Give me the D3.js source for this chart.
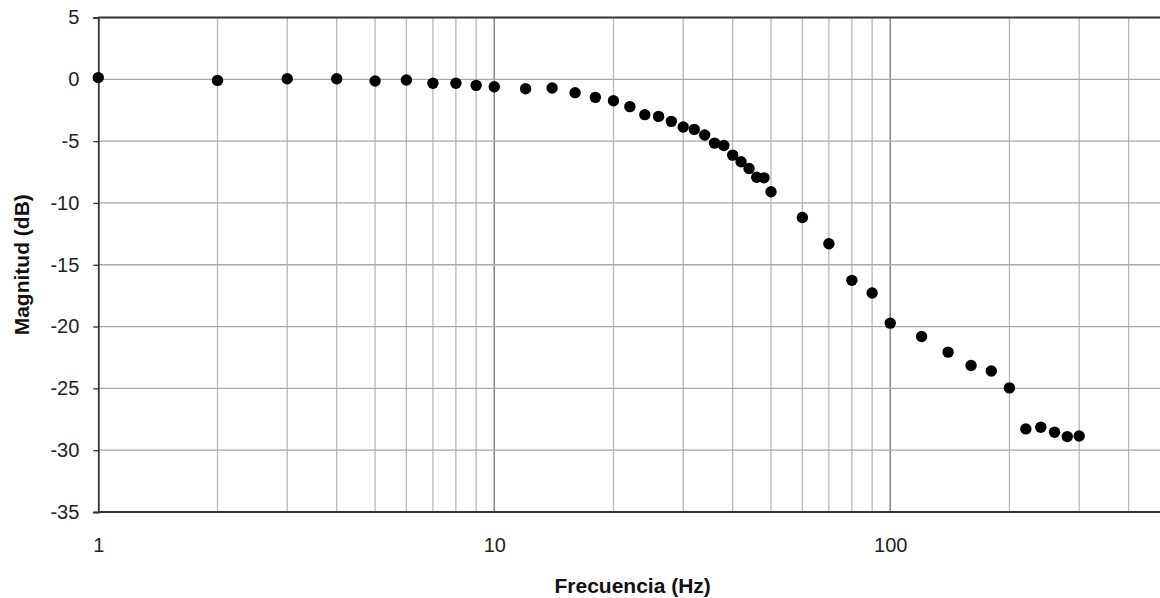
<!DOCTYPE html>
<html lang="es">
<head>
<meta charset="UTF-8">
<title>Magnitud vs Frecuencia</title>
<script src="https://d3js.org/d3.v7.min.js"></script>
<style>
  html, body { margin: 0; padding: 0; background: #fff; }
  svg { display: block; font-family: "Liberation Sans", Arial, sans-serif; }
</style>
</head>
<body>
<div id="chart"></div>
<script>
// measured points (Hz, dB)
const freq = [1, 2, 3, 4, 5, 6, 7, 8, 9, 10,
  12, 14, 16, 18, 20, 22, 24, 26, 28, 30,
  32, 34, 36, 38, 40, 42, 44, 46, 48, 50,
  60, 70, 80, 90, 100, 120, 140, 160, 180, 200,
  220, 240, 260, 280, 300];
const mag = [0.14, -0.1, 0.05, 0.05, -0.14, -0.06, -0.32, -0.32, -0.49, -0.6,
  -0.76, -0.7, -1.08, -1.46, -1.73, -2.21, -2.86, -3.0, -3.4, -3.86,
  -4.05, -4.51, -5.16, -5.35, -6.13, -6.67, -7.21, -7.92, -7.97, -9.1,
  -11.18, -13.3, -16.26, -17.29, -19.72, -20.8, -22.07, -23.15, -23.6, -24.96,
  -28.28, -28.15, -28.55, -28.9, -28.85];

const yTicks = [5, 0, -5, -10, -15, -20, -25, -30, -35];
const xLabels = [1, 10, 100];
const xGrid = [2, 3, 4, 5, 6, 7, 8, 9, 20, 30, 40, 50, 60, 70, 80, 90, 200, 300, 400];

const W = 1160, H = 598;
const margin = {top: 17.5, left: 98.3, bottom: 86};
const plotRight = 1167;

const x = d3.scaleLog().domain([1, 500]).range([margin.left, plotRight]);
const y = d3.scaleLinear().domain([-35, 5]).range([H - margin.bottom, margin.top]);

const svg = d3.select("#chart").append("svg")
  .attr("width", W)
  .attr("height", H);

svg.append("rect").attr("width", W).attr("height", H).attr("fill", "#fff");

// vertical grid
svg.append("g").selectAll("line")
  .data(xGrid)
  .enter().append("line")
  .attr("x1", d => x(d)).attr("x2", d => x(d))
  .attr("y1", y(5)).attr("y2", y(-35))
  .attr("stroke", "#b8b8b8")
  .attr("stroke-width", 1.3);

svg.append("g").selectAll("line")
  .data([10, 100])
  .enter().append("line")
  .attr("x1", d => x(d)).attr("x2", d => x(d))
  .attr("y1", y(5)).attr("y2", y(-35))
  .attr("stroke", "#868686")
  .attr("stroke-width", 1.5);

// horizontal grid
svg.append("g").selectAll("line")
  .data(yTicks.filter(d => d !== 5 && d !== -35))
  .enter().append("line")
  .attr("x1", x(1)).attr("x2", plotRight)
  .attr("y1", d => y(d)).attr("y2", d => y(d))
  .attr("stroke", "#a8a8a8")
  .attr("stroke-width", 1.3);

// frame: top, left, bottom
svg.append("line")
  .attr("x1", x(1)).attr("x2", plotRight)
  .attr("y1", y(5)).attr("y2", y(5))
  .attr("stroke", "#333").attr("stroke-width", 1.8);

const yAxis = d3.axisLeft(y)
  .tickValues(yTicks)
  .tickSize(5)
  .tickPadding(14)
  .tickFormat(d => String(d));

const gy = svg.append("g")
  .attr("transform", `translate(${x(1)},0)`)
  .call(yAxis);
gy.select(".domain").attr("stroke", "#333").attr("stroke-width", 1.8);
gy.selectAll(".tick line").attr("stroke", "#333").attr("stroke-width", 1.3);
gy.selectAll(".tick text")
  .attr("font-size", 20)
  .attr("fill", "#222")
  .attr("font-family", "'Liberation Sans', Arial, sans-serif");

const xAxis = d3.axisBottom(x)
  .tickValues(xLabels)
  .tickSize(0)
  .tickPadding(26)
  .tickFormat(d => String(d));

const gx = svg.append("g")
  .attr("transform", `translate(0,${y(-35)})`)
  .call(xAxis);
gx.select(".domain").attr("stroke", "#333").attr("stroke-width", 1.8)
  .attr("d", `M${x(1)},0H${plotRight}`);
gx.selectAll(".tick text")
  .attr("font-size", 20)
  .attr("fill", "#222")
  .attr("font-family", "'Liberation Sans', Arial, sans-serif");

// points
svg.append("g").selectAll("circle")
  .data(freq.map((f, i) => [f, mag[i]]))
  .enter().append("circle")
  .attr("cx", d => x(d[0]))
  .attr("cy", d => y(d[1]))
  .attr("r", 5.7)
  .attr("fill", "#000");

// axis titles
svg.append("text")
  .attr("x", (x(1) + plotRight) / 2)
  .attr("y", 593)
  .attr("text-anchor", "middle")
  .attr("font-size", 21)
  .attr("font-weight", "bold")
  .attr("fill", "#111")
  .text("Frecuencia (Hz)");

svg.append("text")
  .attr("transform", `translate(29,${(y(5) + y(-35)) / 2}) rotate(-90)`)
  .attr("text-anchor", "middle")
  .attr("font-size", 21)
  .attr("font-weight", "bold")
  .attr("fill", "#111")
  .text("Magnitud (dB)");
</script>
</body>
</html>
